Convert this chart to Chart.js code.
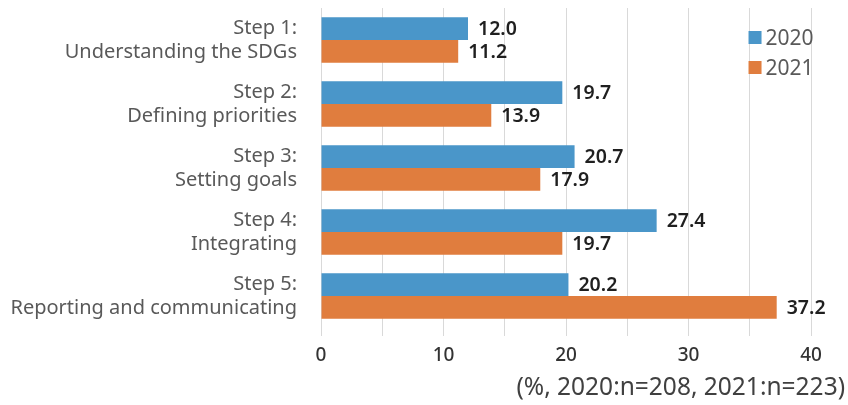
<!DOCTYPE html>
<html><head><meta charset="utf-8">
<script src="https://cdn.jsdelivr.net/npm/chart.js@4/dist/chart.umd.min.js"></script>
<style>html,body{margin:0;padding:0;background:#fff}#wrap{width:848px;height:405px;position:relative}</style>
</head><body><div id="wrap"><canvas id="c" width="848" height="405"></canvas></div>
<script>
const categories = [["Step 1:","Understanding the SDGs"],["Step 2:","Defining priorities"],["Step 3:","Setting goals"],["Step 4:","Integrating"],["Step 5:","Reporting and communicating"]];
const seriesNames = ["2020","2021"];
const values2020 = [12.0, 19.7, 20.7, 27.4, 20.2];
const values2021 = [11.2, 13.9, 17.9, 19.7, 37.2];
const xTicks = [0, 10, 20, 30, 40];
const footnote = "(%, 2020:n=208, 2021:n=223)";
const colors = ["#4a96c9", "#e07d3e"];
const FONT = "'Noto Sans', 'Open Sans', sans-serif";

const labelPlugin = {
  id: 'valueLabels',
  afterDatasetsDraw(chart) {
    const ctx = chart.ctx;
    ctx.save();
    ctx.font = "600 19.5px " + FONT;
    ctx.fillStyle = "#1f1f1f";
    ctx.textAlign = "left";
    ctx.textBaseline = "middle";
    chart.data.datasets.forEach((ds, i) => {
      chart.getDatasetMeta(i).data.forEach((bar, j) => {
        ctx.fillText(ds.data[j].toFixed(1), bar.x + 10, bar.y + 1);
      });
    });
    ctx.restore();
  },
  afterDraw(chart) {
    const ctx = chart.ctx;
    ctx.save();
    ctx.font = "21px " + FONT;
    ctx.textBaseline = "middle";
    ctx.textAlign = "left";
    const x0 = chart.scales.x.getPixelForValue(34.9);
    chart.data.datasets.forEach((ds, i) => {
      const y = 38 + i * 30;
      ctx.fillStyle = ds.backgroundColor;
      ctx.fillRect(x0, y - 7, 13, 13);
      ctx.fillStyle = "#595959";
      ctx.fillText(ds.label, x0 + 17, y + 1);
    });
    ctx.font = "24.5px " + FONT;
    ctx.textAlign = "right";
    ctx.fillStyle = "#404040";
    ctx.fillText(footnote, 845, 388);
    ctx.restore();
  }
};

new Chart(document.getElementById('c'), {
  type: 'bar',
  data: {
    labels: categories,
    datasets: [
      { label: seriesNames[0], data: values2020, backgroundColor: colors[0] },
      { label: seriesNames[1], data: values2021, backgroundColor: colors[1] }
    ]
  },
  options: {
    indexAxis: 'y',
    responsive: false,
    animation: false,
    devicePixelRatio: 1,
    layout: { padding: { top: 8, right: 37, left: 0, bottom: 0 } },
    datasets: { bar: { barPercentage: 1.0, categoryPercentage: 0.71 } },
    plugins: {
      legend: { display: false },
      tooltip: { enabled: false },
      title: { display: false }
    },
    scales: {
      x: {
        min: 0, max: 40,
        afterBuildTicks(scale) { scale.ticks = []; for (let v = 0; v <= 40; v += 5) scale.ticks.push({ value: v }); },
        ticks: {
          padding: 8, color: "#333333",
          font: { family: FONT, size: 19, weight: '500' },
          callback: (v) => xTicks.includes(v) ? String(v) : ''
        },
        grid: { color: "#d9d9d9", lineWidth: 1, drawTicks: true, tickLength: 8 },
        border: { display: false },
        afterFit(scale) { scale.height = 77; scale.paddingLeft = 0; scale.paddingRight = 0; }
      },
      y: {
        ticks: {
          color: "#595959", padding: 24,
          font: { family: FONT, size: 20, lineHeight: 1.2 }
        },
        grid: { display: false, drawTicks: false },
        border: { display: false },
        afterFit(scale) { scale.width = 321; scale.paddingTop = 0; scale.paddingBottom = 0; }
      }
    }
  },
  plugins: [labelPlugin]
});
</script></body></html>
